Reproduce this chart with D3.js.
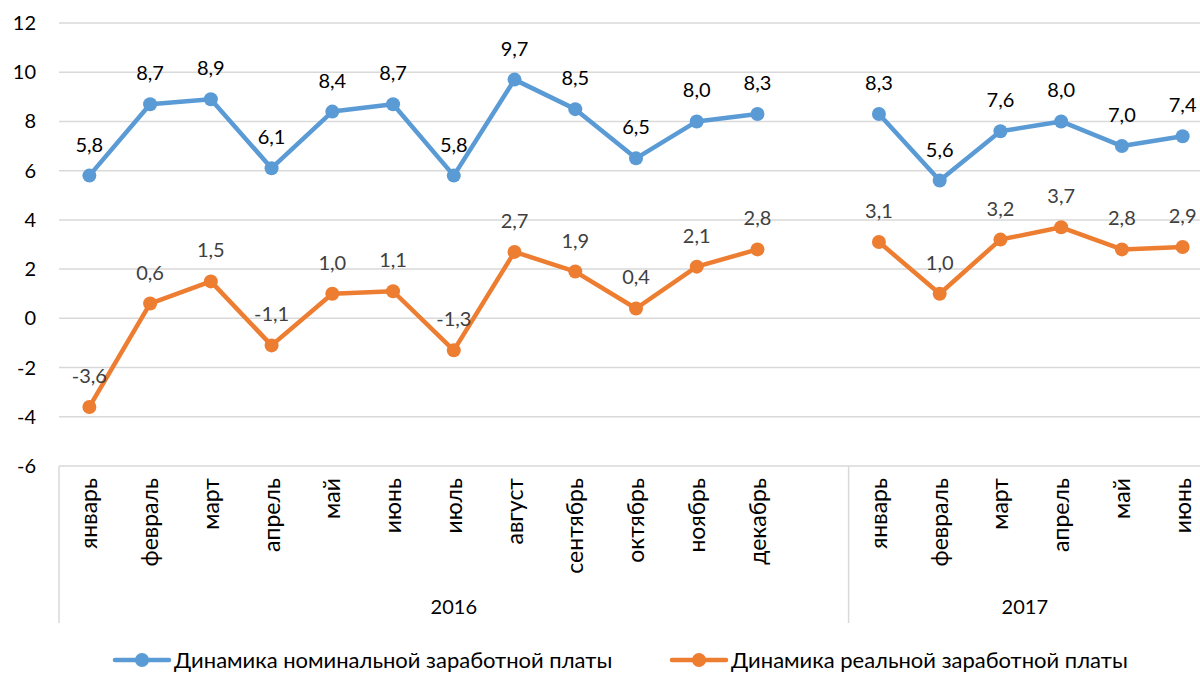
<!DOCTYPE html>
<html>
<head>
<meta charset="utf-8">
<script src="https://cdn.jsdelivr.net/npm/d3@7/dist/d3.min.js"></script>
<style>
  body { margin: 0; background: #fff; }
  text { font-family: Lato, "Open Sans", sans-serif; }
</style>
</head>
<body>
<div id="chart"></div>
<script>
// данные
const months = ['январь', 'февраль', 'март', 'апрель', 'май', 'июнь', 'июль', 'август', 'сентябрь', 'октябрь', 'ноябрь', 'декабрь', '',
    'январь', 'февраль', 'март', 'апрель', 'май', 'июнь'];
const years = [{ label: '2016', from: 0, to: 12 }, { label: '2017', from: 13, to: 18 }];
const nominal = [5.8, 8.7, 8.9, 6.1, 8.4, 8.7, 5.8, 9.7, 8.5, 6.5, 8.0, 8.3, null, 8.3, 5.6, 7.6, 8.0, 7.0, 7.4];
const real = [-3.6, 0.6, 1.5, -1.1, 1.0, 1.1, -1.3, 2.7, 1.9, 0.4, 2.1, 2.8, null, 3.1, 1.0, 3.2, 3.7, 2.8, 2.9];
const yTicks = [-6, -4, -2, 0, 2, 4, 6, 8, 10, 12];

const series = [
    { name: 'Динамика номинальной заработной платы', values: nominal, color: '#5B9BD5', labelColor: '#000' },
    { name: 'Динамика реальной заработной платы', values: real, color: '#ED7D31', labelColor: '#404040' }
];

const width = 1200, height = 673;
const plotLeft = 59, plotRight = 1213, plotTop = 23, plotBottom = 466;
const numSize = 20, textSize = 23, legendSize = 22;

const svg = d3.select('#chart').append('svg')
    .attr('width', width)
    .attr('height', height);

const x = d3.scaleBand().domain(d3.range(months.length)).range([plotLeft, plotRight]);
const cx = i => x(i) + x.bandwidth() / 2;
const y = d3.scaleLinear().domain([-6, 12]).range([plotBottom, plotTop]);

// запятая и обычный дефис, как в Excel
const fmt = v => d3.format('.1f')(v).replace('.', ',').replace('\u2212', '-');

// сетка
svg.append('g')
    .selectAll('line')
    .data(yTicks)
    .enter().append('line')
    .attr('x1', plotLeft).attr('x2', width)
    .attr('y1', d => y(d)).attr('y2', d => y(d))
    .attr('stroke', '#d9d9d9')
    .attr('stroke-width', 1.5);

// подписи оси Y
svg.append('g')
    .selectAll('text')
    .data(yTicks)
    .enter().append('text')
    .attr('x', 36)
    .attr('y', d => y(d))
    .attr('dy', '0.35em')
    .attr('text-anchor', 'end')
    .attr('font-size', numSize)
    .attr('fill', '#000')
    .text(d => d);

// ось категорий
const axisBottom = 623;
svg.append('g')
    .selectAll('line')
    .data([plotLeft, x(13)])
    .enter().append('line')
    .attr('x1', d => d).attr('x2', d => d)
    .attr('y1', plotBottom).attr('y2', axisBottom)
    .attr('stroke', '#d9d9d9')
    .attr('stroke-width', 1.5);

svg.append('g')
    .selectAll('text')
    .data(months)
    .enter().append('text')
    .attr('transform', (d, i) => `translate(${cx(i)},${plotBottom + 12}) rotate(-90)`)
    .attr('dy', '0.35em')
    .attr('text-anchor', 'end')
    .attr('font-size', textSize)
    .attr('fill', '#000')
    .text(d => d);

svg.append('g')
    .selectAll('text')
    .data(years)
    .enter().append('text')
    .attr('x', d => (x(d.from) + x(d.to) + x.bandwidth()) / 2 - (d.label === '2017' ? 6 : 0))
    .attr('y', 614)
    .attr('text-anchor', 'middle')
    .attr('font-size', numSize)
    .attr('fill', '#000')
    .text(d => d.label);

// линии
const line = d3.line()
    .defined(d => d != null)
    .x((d, i) => cx(i))
    .y(d => y(d));

series.forEach(s => {
    const g = svg.append('g');
    g.append('path')
        .datum(s.values)
        .attr('fill', 'none')
        .attr('stroke', s.color)
        .attr('stroke-width', 4.5)
        .attr('stroke-linejoin', 'round')
        .attr('d', line);

    const pts = s.values.map((v, i) => ({ v, i })).filter(d => d.v != null);

    g.selectAll('circle')
        .data(pts)
        .enter().append('circle')
        .attr('cx', d => cx(d.i))
        .attr('cy', d => y(d.v))
        .attr('r', 7)
        .attr('fill', s.color);

    g.selectAll('text')
        .data(pts)
        .enter().append('text')
        .attr('x', d => cx(d.i))
        .attr('y', d => y(d.v) - 24)
        .attr('text-anchor', 'middle')
        .attr('font-size', numSize)
        .attr('fill', s.labelColor)
        .text(d => fmt(d.v));
});

// легенда
const legendX = [115, 672];
const legend = svg.append('g')
    .selectAll('g')
    .data(series)
    .enter().append('g')
    .attr('transform', (d, i) => `translate(${legendX[i]},660)`);

legend.append('line')
    .attr('x1', 0).attr('x2', 54)
    .attr('stroke', d => d.color)
    .attr('stroke-width', 4.5)
    .attr('stroke-linecap', 'round');

legend.append('circle')
    .attr('cx', 27)
    .attr('r', 7)
    .attr('fill', d => d.color);

legend.append('text')
    .attr('x', 59)
    .attr('dy', '0.35em')
    .attr('font-size', legendSize)
    .attr('fill', '#000')
    .text(d => d.name);
</script>
</body>
</html>
